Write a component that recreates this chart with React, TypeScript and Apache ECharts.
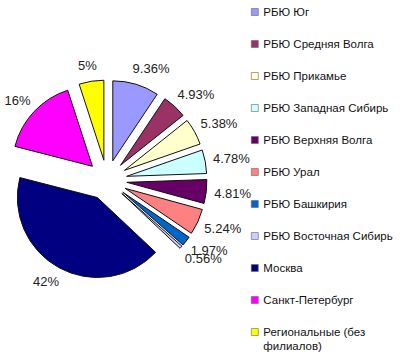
import React, { useEffect, useRef } from "react";
import * as echarts from "echarts";

const categories = [
  "РБЮ Юг",
  "РБЮ Средняя Волга",
  "РБЮ Прикамье",
  "РБЮ Западная Сибирь",
  "РБЮ Верхняя Волга",
  "РБЮ Урал",
  "РБЮ Башкирия",
  "РБЮ Восточная Сибирь",
  "Москва",
  "Санкт-Петербург",
  "Региональные (без филиалов)",
];
const values = [9.36, 4.93, 5.38, 4.78, 4.81, 5.24, 1.97, 0.56, 42, 16, 5];
const colors = [
  "#9999FF",
  "#993366",
  "#FFFFCC",
  "#CCFFFF",
  "#660066",
  "#FF8080",
  "#0066CC",
  "#CCCCFF",
  "#000080",
  "#FF00FF",
  "#FFFF00",
];

export default function App() {
  const ref = useRef<HTMLDivElement>(null);
  useEffect(() => {
    if (!ref.current) return;
    const chart = echarts.init(ref.current, undefined, { renderer: "svg" });
    const font = "'Liberation Sans', Arial, sans-serif";
    const legendText = {
      fontFamily: font,
      fontSize: 11.5,
      color: "#111",
      lineHeight: 14,
    };
    const legendBase = {
      orient: "vertical",
      left: 251,
      width: 160,
      padding: 0,
      icon: "rect",
      itemWidth: 7,
      itemHeight: 7,
      itemGap: 18,
      selectedMode: false,
      itemStyle: { borderWidth: 0.6, borderColor: "#666" },
      textStyle: legendText,
    };
    const last = categories.length - 1;
    chart.setOption({
      animation: false,
      backgroundColor: "#ffffff",
      legend: [
        {
          ...legendBase,
          top: 5,
          height: 420,
          data: categories.slice(0, last),
        },
        {
          ...legendBase,
          top: 311,
          height: 100,
          formatter: (n: string) => "\n" + n.replace("(без ", "(без\n"),
          data: [categories[last]],
        },
      ],
      series: [
        {
          type: "pie",
          center: [107, 180],
          radius: 80,
          startAngle: 90,
          clockwise: true,
          selectedMode: "multiple",
          selectedOffset: 20,
          avoidLabelOverlap: false,
          labelLayout: { hideOverlap: false },
          label: {
            show: true,
            position: "outside",
            formatter: (p: any) => `${p.value}%`,
            fontFamily: font,
            fontSize: 13,
            color: "#222",
            distanceToLabelLine: -8,
          },
          labelLine: { show: false, length: 16, length2: 0 },
          itemStyle: { borderColor: "#111", borderWidth: 1 },
          emphasis: { disabled: true },
          data: categories.map((c, i) => ({
            name: c,
            value: values[i],
            selected: true,
            itemStyle: { color: colors[i] },
          })),
        },
      ],
    });
    return () => chart.dispose();
  }, []);
  return (
    <div
      ref={ref}
      style={{ position: "fixed", left: 0, top: 0, width: 400, height: 355 }}
    />
  );
}
